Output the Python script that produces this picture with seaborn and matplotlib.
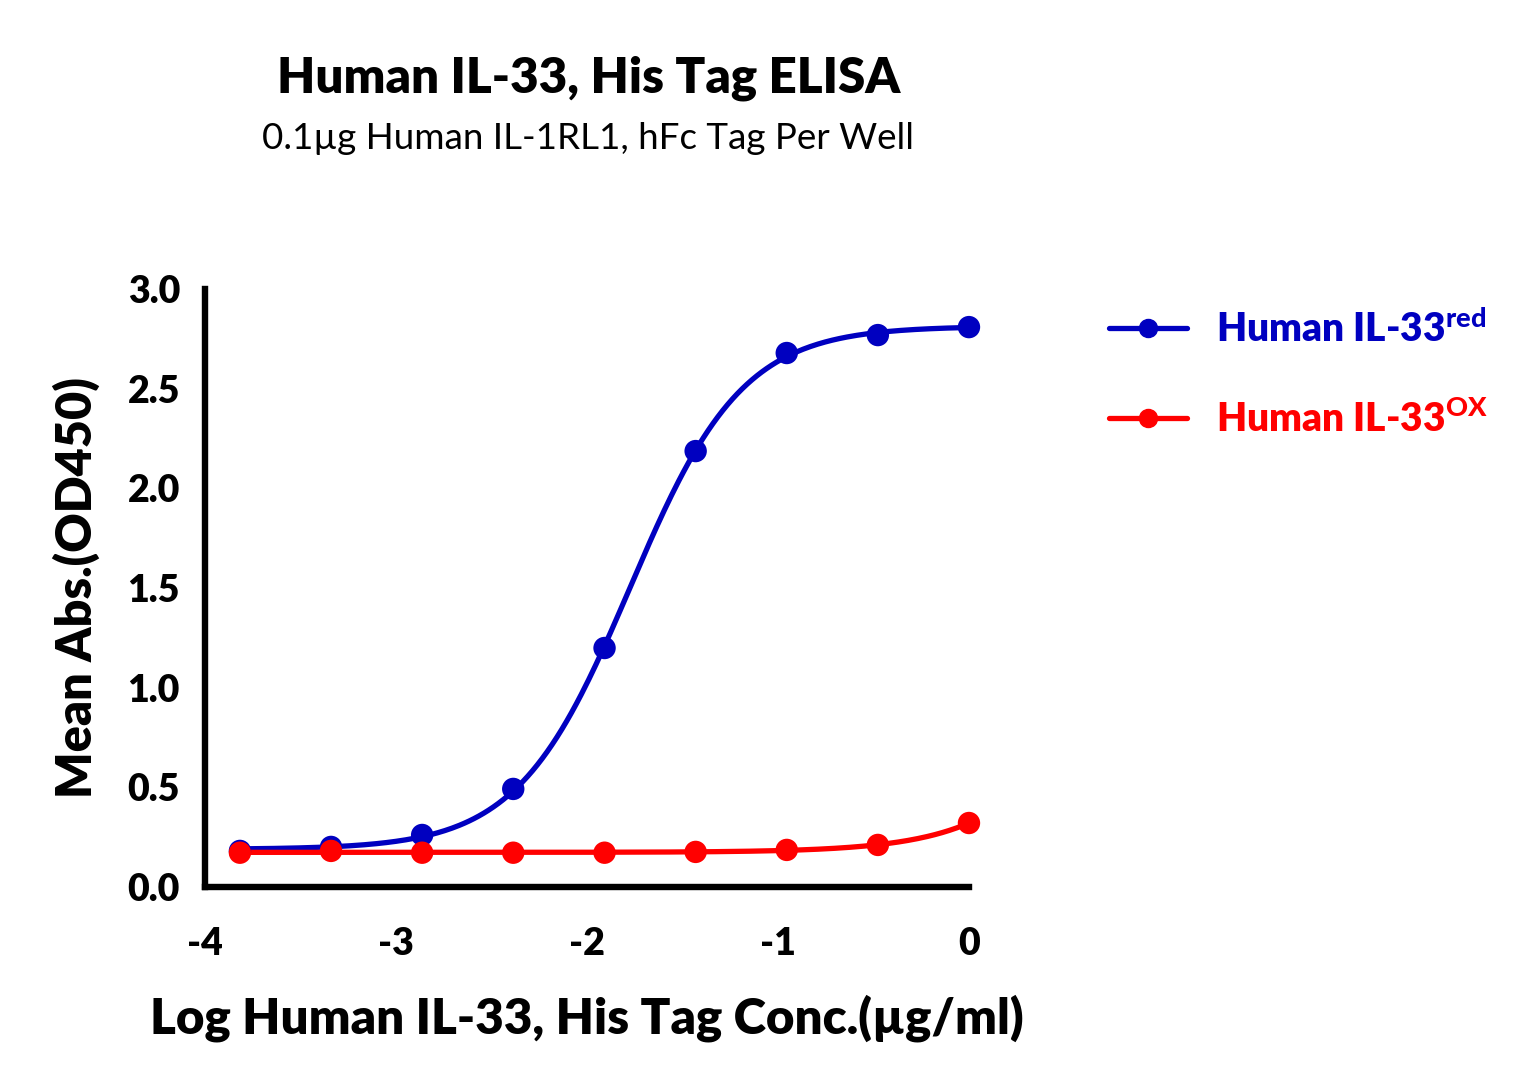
import numpy as np
import pandas as pd
import matplotlib
matplotlib.use("Agg")
import matplotlib.pyplot as plt
import seaborn as sns
from matplotlib.lines import Line2D

# data: log10 concentration (3-fold dilutions) and mean OD450
log_conc = [-3.817, -3.340, -2.863, -2.386, -1.908, -1.431, -0.954, -0.477, 0.0]
od_red = [0.181, 0.201, 0.261, 0.492, 1.199, 2.187, 2.679, 2.769, 2.809]
od_ox = [0.172, 0.181, 0.172, 0.172, 0.172, 0.176, 0.186, 0.211, 0.321]
series_names = ["Human IL-33red", "Human IL-33OX"]
series_labels = [r"Human IL-33$^{\mathbf{red}}$", r"Human IL-33$^{\mathbf{OX}}$"]
series_colors = ["#0000c0", "#ff0000"]

sns.set_style("white")
plt.rcParams["font.family"] = ["Lato", "DejaVu Sans"]
plt.rcParams["mathtext.fontset"] = "custom"
plt.rcParams["mathtext.rm"] = "Lato:black"
plt.rcParams["mathtext.bf"] = "Lato:black"
plt.rcParams["text.color"] = "black"
plt.rcParams["axes.labelcolor"] = "black"
plt.rcParams["xtick.color"] = "black"
plt.rcParams["ytick.color"] = "black"

W = "heavy"


def fit_4pl(x, y):
    # grid over ec50/hill, bottom and top solved by linear least squares
    x = np.asarray(x)
    y = np.asarray(y)
    best = None
    for ec in np.linspace(-4.5, 2.0, 261):
        for hill in np.linspace(0.3, 3.0, 109):
            s = 1.0 / (1.0 + 10 ** ((ec - x) * hill))
            A = np.column_stack([1 - s, s])
            coef, *_ = np.linalg.lstsq(A, y, rcond=None)
            err = np.sum((A @ coef - y) ** 2)
            if best is None or err < best[0]:
                best = (err, coef[0], coef[1], ec, hill)
    _, bot, top, ec, hill = best
    return lambda t: bot + (top - bot) / (1.0 + 10 ** ((ec - t) * hill))


xs = np.linspace(min(log_conc), max(log_conc), 300)
pts = pd.DataFrame({
    "x": log_conc * 2,
    "y": od_red + od_ox,
    "s": [series_names[0]] * len(log_conc) + [series_names[1]] * len(log_conc),
})
curves = []
for name, vals in zip(series_names, [od_red, od_ox]):
    f = fit_4pl(log_conc, vals)
    curves.append(pd.DataFrame({"x": xs, "y": f(xs), "s": name}))
curves = pd.concat(curves)
pal = dict(zip(series_names, series_colors))

fig = plt.figure(figsize=(15.4, 10.87), dpi=100)
ax = fig.add_axes([0.1331, 0.1840, 0.4961, 0.5501])

sns.lineplot(data=curves, x="x", y="y", hue="s", palette=pal, lw=3.8,
             legend=False, ax=ax, clip_on=False)
sns.scatterplot(data=pts, x="x", y="y", hue="s", palette=pal, s=260,
                edgecolor="none", legend=False, ax=ax, clip_on=False, zorder=5)

ax.set_xlim(-4, 0)
ax.set_ylim(0, 3.0)
ax.set_xticks([-4, -3, -2, -1, 0])
ax.set_xticklabels(["-4", "-3", "-2", "-1", "0"])
ax.set_yticks([0, 0.5, 1.0, 1.5, 2.0, 2.5, 3.0])
ax.set_yticklabels(["0.0", "0.5", "1.0", "1.5", "2.0", "2.5", "3.0"])
for sp in ["top", "right"]:
    ax.spines[sp].set_visible(False)
for sp in ["left", "bottom"]:
    ax.spines[sp].set_linewidth(4.6)
    ax.spines[sp].set_color("black")
ax.tick_params(axis="both", direction="out", length=10, width=4.6,
               labelsize=27, pad=8, color="black")
for lab in ax.get_xticklabels() + ax.get_yticklabels():
    lab.set_fontweight(W)
ax.tick_params(axis="x", pad=19)

ax.set_xlabel("Log Human IL-33, His Tag Conc.(µg/ml)", fontsize=35.5,
              fontweight=W, labelpad=24)
ax.set_ylabel("Mean Abs.(OD450)", fontsize=35, fontweight=W, labelpad=20)

fig.text(0.382, 0.928, "Human IL-33, His Tag ELISA", ha="center", va="center",
         fontsize=35.5, fontweight=W)
fig.text(0.382, 0.873, "0.1µg Human IL-1RL1, hFc Tag Per Well", ha="center",
         va="center", fontsize=26.5)

handles = [Line2D([0], [0], color=c, lw=3.8, marker="o", markersize=13)
           for c in series_colors]
leg = ax.legend(handles, series_labels, loc="upper left",
                bbox_to_anchor=(1.138, 1.025), frameon=False, handlelength=2.0,
                labelspacing=1.3, prop={"size": 28, "weight": W},
                handletextpad=0.75)
for t, c in zip(leg.get_texts(), series_colors):
    t.set_color(c)

fig.savefig("out.png", dpi=100)
